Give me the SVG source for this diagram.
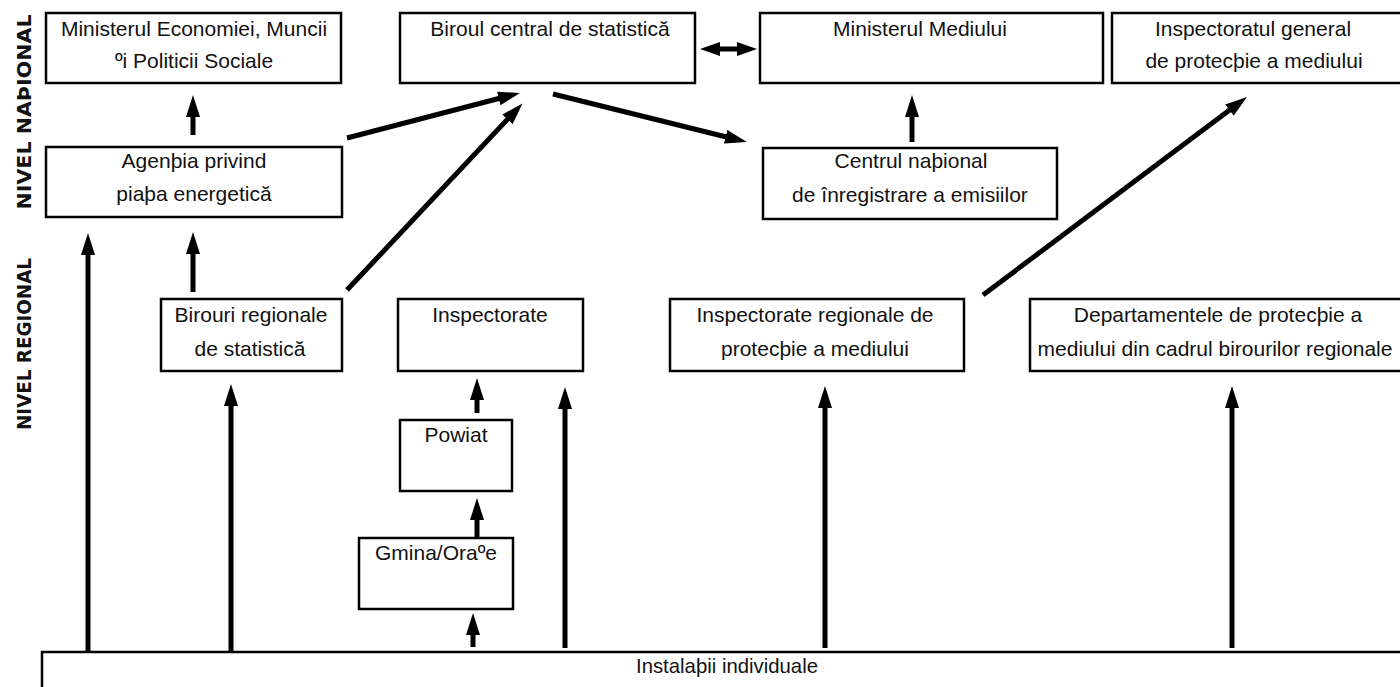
<svg xmlns="http://www.w3.org/2000/svg" width="1400" height="687" viewBox="0 0 1400 687">
<style>
.box{fill:#fff;stroke:#000;stroke-width:2.5}
.t{font-family:"Liberation Sans",Arial,sans-serif;font-size:21px;fill:#111;text-anchor:middle}
.lab{font-family:"DejaVu Sans",sans-serif;font-weight:bold;font-size:19px;fill:#111;text-anchor:middle}
.ar{stroke:#000;stroke-width:5;fill:none;marker-end:url(#ah)}
.dbl{stroke:#000;stroke-width:5;fill:none;marker-end:url(#ah2);marker-start:url(#ah2)}
</style>
<defs>
<marker id="ah" markerUnits="userSpaceOnUse" markerWidth="24" markerHeight="16" refX="4" refY="7" orient="auto"><path d="M0,0 L22,7 L0,14 z" fill="#000"/></marker>
<marker id="ah2" markerUnits="userSpaceOnUse" markerWidth="24" markerHeight="16" refX="4" refY="7" orient="auto-start-reverse"><path d="M0,0 L20,7 L0,14 z" fill="#000"/></marker>
</defs>
<rect width="1400" height="687" fill="#fff"/>
<g id="labels">
<text class="lab" transform="translate(31,112) rotate(-90)" textLength="195" lengthAdjust="spacingAndGlyphs">NIVEL NAÞIONAL</text>
<text class="lab" transform="translate(31,344) rotate(-90)" textLength="172" lengthAdjust="spacingAndGlyphs">NIVEL REGIONAL</text>
</g>
<g id="connectors">
<line class="ar" x1="193" y1="135" x2="193" y2="113"/>
<line class="ar" x1="193" y1="292" x2="193" y2="250"/>
<line class="ar" x1="88" y1="652" x2="88" y2="251"/>
<line class="ar" x1="231" y1="652" x2="231" y2="402"/>
<line class="ar" x1="347" y1="138" x2="502.6" y2="97.5"/>
<line class="ar" x1="347" y1="290" x2="510.2" y2="116.5"/>
<line class="ar" x1="553" y1="94" x2="729.5" y2="137.7"/>
<line class="dbl" x1="716" y1="49" x2="741" y2="49"/>
<line class="ar" x1="912" y1="142" x2="912" y2="113"/>
<line class="ar" x1="983" y1="295" x2="1232.6" y2="107.8"/>
<line class="ar" x1="477" y1="413" x2="477" y2="396"/>
<line class="ar" x1="477" y1="537" x2="477" y2="516"/>
<line class="ar" x1="473" y1="647" x2="473" y2="631"/>
<line class="ar" x1="565" y1="648" x2="565" y2="405"/>
<line class="ar" x1="825" y1="648" x2="825" y2="404"/>
<line class="ar" x1="1232" y1="648" x2="1232" y2="404"/>
</g>
<g id="n-ministerul-economiei">
<rect class="box" x="46" y="13" width="295" height="70"/>
<text class="t" x="194" y="36">Ministerul Economiei, Muncii</text>
<text class="t" x="194" y="68">ºi Politicii Sociale</text>
</g>
<g id="n-biroul-central">
<rect class="box" x="400" y="13" width="295" height="70"/>
<text class="t" x="550" y="36">Biroul central de statistică</text>
</g>
<g id="n-ministerul-mediului">
<rect class="box" x="760" y="13" width="343" height="70"/>
<text class="t" x="920" y="36">Ministerul Mediului</text>
</g>
<g id="n-inspectoratul-general">
<rect class="box" x="1112" y="13" width="300" height="70"/>
<text class="t" x="1253" y="36">Inspectoratul general</text>
<text class="t" x="1254" y="68">de protecþie a mediului</text>
</g>
<g id="n-agentia">
<rect class="box" x="46" y="147" width="296" height="70"/>
<text class="t" x="194" y="168">Agenþia privind</text>
<text class="t" x="194" y="201">piaþa energetică</text>
</g>
<g id="n-centrul">
<rect class="box" x="763" y="148" width="294" height="71"/>
<text class="t" x="911" y="168">Centrul naþional</text>
<text class="t" x="910" y="202">de înregistrare a emisiilor</text>
</g>
<g id="n-birouri-regionale">
<rect class="box" x="161" y="299" width="181" height="72"/>
<text class="t" x="251" y="322">Birouri regionale</text>
<text class="t" x="250" y="356">de statistică</text>
</g>
<g id="n-inspectorate">
<rect class="box" x="398" y="299" width="185" height="72"/>
<text class="t" x="490" y="322">Inspectorate</text>
</g>
<g id="n-inspectorate-regionale">
<rect class="box" x="670" y="299" width="294" height="72"/>
<text class="t" x="815" y="322">Inspectorate regionale de</text>
<text class="t" x="815" y="356">protecþie a mediului</text>
</g>
<g id="n-departamentele">
<rect class="box" x="1030" y="299" width="390" height="72"/>
<text class="t" x="1218" y="322">Departamentele de protecþie a</text>
<text class="t" x="1215" y="356">mediului din cadrul birourilor regionale</text>
</g>
<g id="n-powiat">
<rect class="box" x="400" y="420" width="112" height="71"/>
<text class="t" x="456" y="442">Powiat</text>
</g>
<g id="n-gmina">
<rect class="box" x="359" y="538" width="154" height="71"/>
<text class="t" x="436" y="560">Gmina/Oraºe</text>
</g>
<g id="n-instalatii">
<rect class="box" x="42" y="652" width="1380" height="60"/>
<text class="t" x="727" y="673" textLength="182" lengthAdjust="spacingAndGlyphs">Instalaþii individuale</text>
</g>
</svg>
